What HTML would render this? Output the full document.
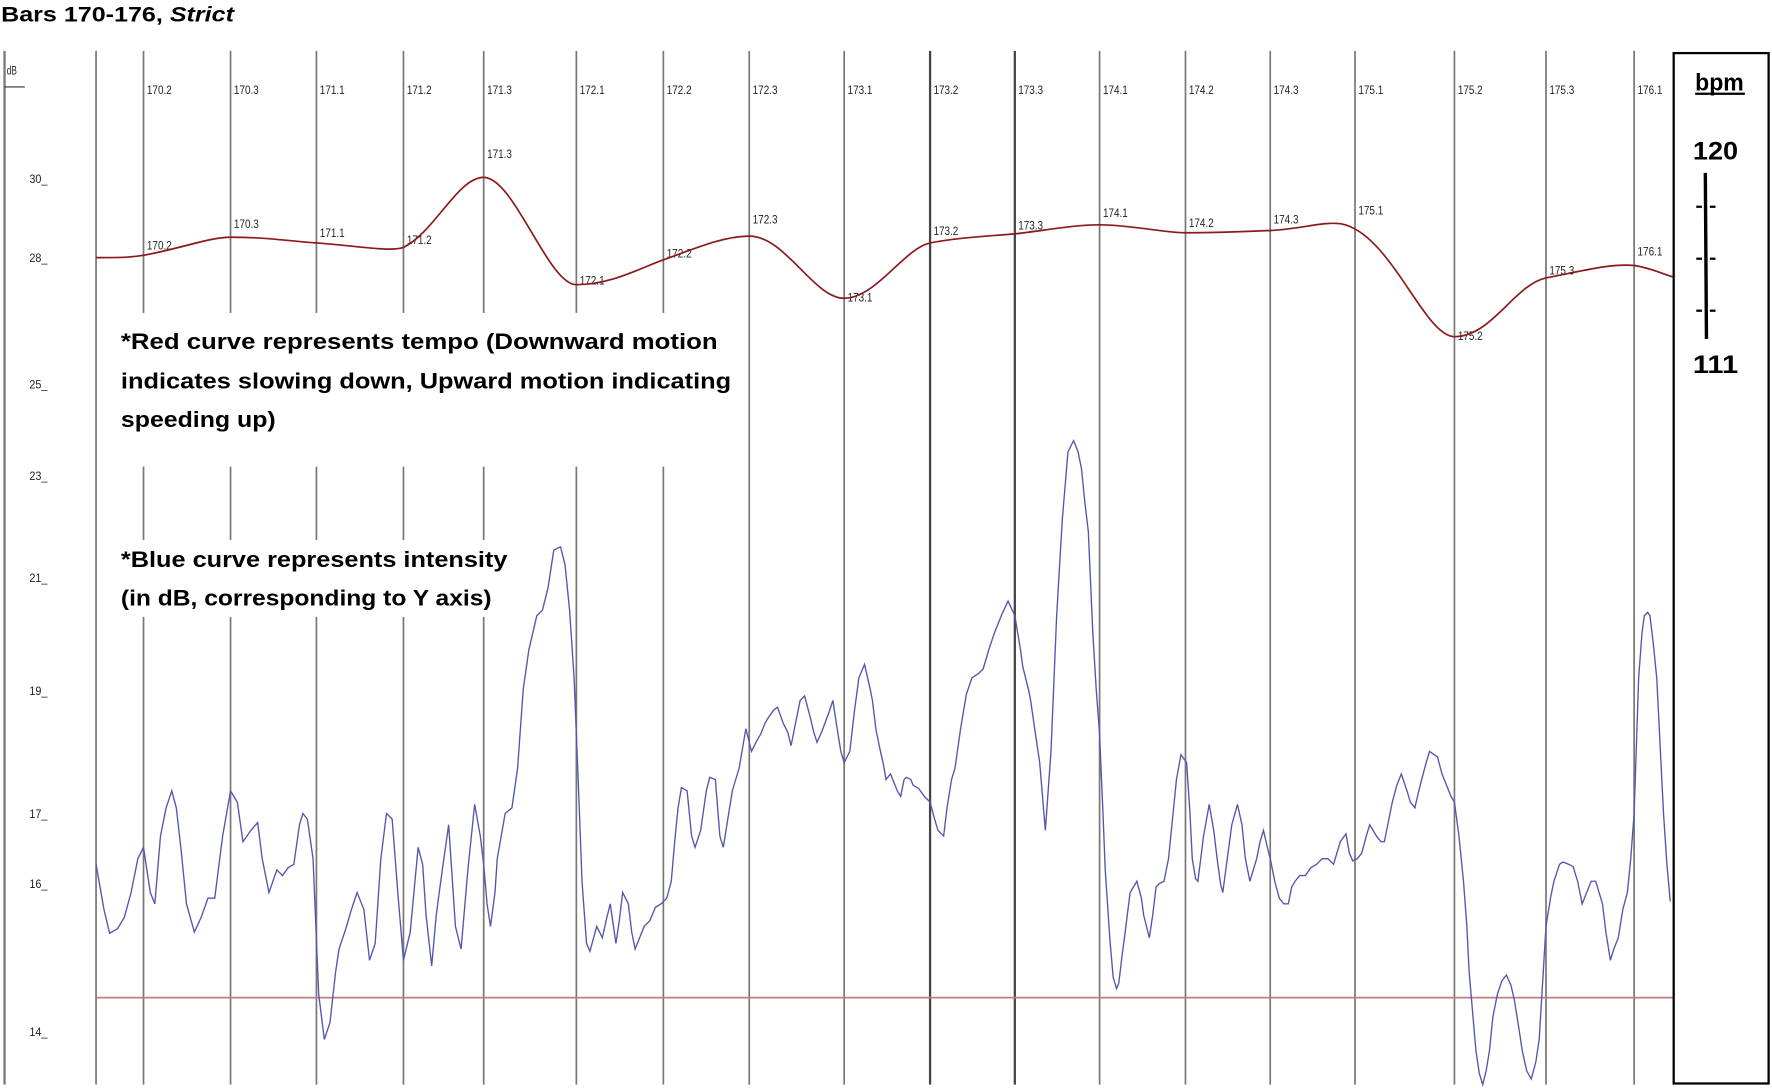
<!DOCTYPE html>
<html><head><meta charset="utf-8"><style>
html,body{margin:0;padding:0;background:#fff;}
svg{display:block;}
.t{font-family:"Liberation Sans",sans-serif;font-size:11px;fill:#222;}
.b{font-family:"Liberation Sans",sans-serif;font-weight:bold;fill:#000;}
</style></head><body>
<svg width="1772" height="1088" viewBox="0 0 1568 963" preserveAspectRatio="none" xmlns="http://www.w3.org/2000/svg">
<rect width="1568" height="963" fill="#fff"/>
<text class="b" x="1" y="19" font-size="19" textLength="206" lengthAdjust="spacingAndGlyphs">Bars 170-176, <tspan font-style="italic">Strict</tspan></text>
<line x1="4" y1="45" x2="4" y2="960" stroke="#777" stroke-width="2"/>
<text class="t" x="6" y="66" font-size="10" textLength="9" lengthAdjust="spacingAndGlyphs">dB</text>
<line x1="4" y1="77" x2="22" y2="77" stroke="#333" stroke-width="1"/>
<g stroke="#777" stroke-width="1.5">
<line x1="85" y1="45" x2="85" y2="960"/>
<line x1="127" y1="45" x2="127" y2="960"/>
<line x1="204" y1="45" x2="204" y2="960"/>
<line x1="280" y1="45" x2="280" y2="960"/>
<line x1="357" y1="45" x2="357" y2="960"/>
<line x1="428" y1="45" x2="428" y2="960"/>
<line x1="510" y1="45" x2="510" y2="960"/>
<line x1="587" y1="45" x2="587" y2="960"/>
<line x1="663" y1="45" x2="663" y2="960"/>
<line x1="747" y1="45" x2="747" y2="960"/>
<line x1="823" y1="45" x2="823" y2="960" stroke="#444" stroke-width="2"/>
<line x1="898" y1="45" x2="898" y2="960" stroke="#444" stroke-width="2"/>
<line x1="973" y1="45" x2="973" y2="960"/>
<line x1="1049" y1="45" x2="1049" y2="960"/>
<line x1="1124" y1="45" x2="1124" y2="960"/>
<line x1="1199" y1="45" x2="1199" y2="960"/>
<line x1="1287" y1="45" x2="1287" y2="960"/>
<line x1="1368" y1="45" x2="1368" y2="960"/>
<line x1="1446" y1="45" x2="1446" y2="960"/>
</g>
<rect x="95" y="277" width="562" height="136" fill="#fff"/>
<rect x="95" y="478" width="360" height="68" fill="#fff"/>
<g class="t" lengthAdjust="spacingAndGlyphs">
<text x="130" y="83" textLength="22" lengthAdjust="spacingAndGlyphs">170.2</text><text x="207" y="83" textLength="22" lengthAdjust="spacingAndGlyphs">170.3</text><text x="283" y="83" textLength="22" lengthAdjust="spacingAndGlyphs">171.1</text>
<text x="360" y="83" textLength="22" lengthAdjust="spacingAndGlyphs">171.2</text><text x="431" y="83" textLength="22" lengthAdjust="spacingAndGlyphs">171.3</text><text x="513" y="83" textLength="22" lengthAdjust="spacingAndGlyphs">172.1</text>
<text x="590" y="83" textLength="22" lengthAdjust="spacingAndGlyphs">172.2</text><text x="666" y="83" textLength="22" lengthAdjust="spacingAndGlyphs">172.3</text><text x="750" y="83" textLength="22" lengthAdjust="spacingAndGlyphs">173.1</text>
<text x="826" y="83" textLength="22" lengthAdjust="spacingAndGlyphs">173.2</text><text x="901" y="83" textLength="22" lengthAdjust="spacingAndGlyphs">173.3</text><text x="976" y="83" textLength="22" lengthAdjust="spacingAndGlyphs">174.1</text>
<text x="1052" y="83" textLength="22" lengthAdjust="spacingAndGlyphs">174.2</text><text x="1127" y="83" textLength="22" lengthAdjust="spacingAndGlyphs">174.3</text><text x="1202" y="83" textLength="22" lengthAdjust="spacingAndGlyphs">175.1</text>
<text x="1290" y="83" textLength="22" lengthAdjust="spacingAndGlyphs">175.2</text><text x="1371" y="83" textLength="22" lengthAdjust="spacingAndGlyphs">175.3</text><text x="1449" y="83" textLength="22" lengthAdjust="spacingAndGlyphs">176.1</text>
<text x="26" y="162" textLength="16" lengthAdjust="spacingAndGlyphs">30_</text><text x="26" y="232" textLength="16" lengthAdjust="spacingAndGlyphs">28_</text><text x="26" y="344" textLength="16" lengthAdjust="spacingAndGlyphs">25_</text>
<text x="26" y="425" textLength="16" lengthAdjust="spacingAndGlyphs">23_</text><text x="26" y="515" textLength="16" lengthAdjust="spacingAndGlyphs">21_</text><text x="26" y="615" textLength="16" lengthAdjust="spacingAndGlyphs">19_</text>
<text x="26" y="724" textLength="16" lengthAdjust="spacingAndGlyphs">17_</text><text x="26" y="786" textLength="16" lengthAdjust="spacingAndGlyphs">16_</text><text x="26" y="917" textLength="16" lengthAdjust="spacingAndGlyphs">14_</text>
<text x="130" y="221" textLength="22" lengthAdjust="spacingAndGlyphs">170.2</text><text x="207" y="202" textLength="22" lengthAdjust="spacingAndGlyphs">170.3</text><text x="283" y="210" textLength="22" lengthAdjust="spacingAndGlyphs">171.1</text>
<text x="360" y="216" textLength="22" lengthAdjust="spacingAndGlyphs">171.2</text><text x="431" y="140" textLength="22" lengthAdjust="spacingAndGlyphs">171.3</text><text x="513" y="252" textLength="22" lengthAdjust="spacingAndGlyphs">172.1</text>
<text x="590" y="228" textLength="22" lengthAdjust="spacingAndGlyphs">172.2</text><text x="666" y="198" textLength="22" lengthAdjust="spacingAndGlyphs">172.3</text><text x="750" y="267" textLength="22" lengthAdjust="spacingAndGlyphs">173.1</text>
<text x="826" y="208" textLength="22" lengthAdjust="spacingAndGlyphs">173.2</text><text x="901" y="203" textLength="22" lengthAdjust="spacingAndGlyphs">173.3</text><text x="976" y="192" textLength="22" lengthAdjust="spacingAndGlyphs">174.1</text>
<text x="1052" y="201" textLength="22" lengthAdjust="spacingAndGlyphs">174.2</text><text x="1127" y="198" textLength="22" lengthAdjust="spacingAndGlyphs">174.3</text><text x="1202" y="190" textLength="22" lengthAdjust="spacingAndGlyphs">175.1</text>
<text x="1290" y="301" textLength="22" lengthAdjust="spacingAndGlyphs">175.2</text><text x="1371" y="243" textLength="22" lengthAdjust="spacingAndGlyphs">175.3</text><text x="1449" y="226" textLength="22" lengthAdjust="spacingAndGlyphs">176.1</text>
</g>
<line x1="85" y1="883" x2="1480" y2="883" stroke="#b88080" stroke-width="1.5"/>
<path d="M85,228 C105,228 115,228 127,226 C160,220 185,210 204,210 C240,210 260,214 280,215 C320,218 345,223 357,219 C385,205 405,157 428,157 C455,157 485,252 510,252 C540,252 565,238 587,230 C615,220 640,209 663,209 C695,209 720,264 747,264 C775,264 800,220 823,215 C850,210 875,209 898,207 C925,204 950,199 973,199 C1000,199 1030,206 1049,206 C1075,206 1100,205 1124,204 C1150,203 1170,196 1186,198 C1230,205 1260,298 1287,298 C1320,298 1340,252 1368,246 C1400,240 1425,233 1446,235 C1460,237 1470,242 1480,245" fill="none" stroke="#8b1a1a" stroke-width="1.5"/>
<polyline fill="none" stroke="#5555b0" stroke-width="1.2" points="85,765 92,805 97,826 104,822 110,812 116,790 122,760 127,750 133,790 137,800 142,740 147,715 152,700 156,715 160,750 165,800 172,825 178,812 184,795 190,795 197,740 204,700 210,710 215,745 222,735 228,728 232,760 238,790 245,770 250,775 255,768 260,765 265,730 268,720 272,725 277,760 282,880 287,920 292,905 297,860 300,840 306,822 311,805 316,790 322,805 327,850 332,835 337,760 342,720 347,725 352,790 357,850 363,825 370,750 374,765 377,810 382,855 386,810 390,780 397,730 403,820 408,840 414,770 420,712 425,740 428,765 431,800 434,820 438,790 440,760 447,720 453,715 458,680 463,610 468,575 475,545 480,540 485,520 490,487 496,484 500,500 504,540 508,600 512,700 515,780 519,835 522,842 528,820 533,830 537,812 540,800 545,835 548,815 551,790 556,800 559,825 562,840 566,830 570,820 575,815 580,803 585,800 590,795 594,780 597,745 600,715 603,697 608,700 612,740 615,750 620,735 625,700 628,688 633,690 637,740 640,750 644,725 648,700 654,680 660,645 665,665 670,655 673,650 677,640 680,635 685,628 688,626 693,640 697,648 700,660 705,635 708,620 712,616 717,635 720,648 723,657 727,648 733,632 737,620 740,640 744,665 747,675 752,665 756,630 760,600 765,588 770,610 772,620 775,645 778,660 782,678 784,690 788,685 790,690 794,700 797,705 800,690 802,688 806,690 808,695 813,698 818,705 823,710 827,725 830,735 833,738 835,740 838,715 842,690 845,680 850,645 855,615 860,600 866,596 870,592 875,575 880,560 886,545 892,532 898,545 903,575 905,590 910,610 912,620 916,648 920,675 925,735 930,665 935,545 940,460 945,400 950,390 954,400 957,415 960,445 963,470 967,560 970,610 973,650 976,720 978,770 982,830 985,865 988,875 990,870 993,845 995,830 1000,790 1006,780 1010,795 1012,810 1017,830 1020,810 1023,785 1026,782 1030,780 1034,760 1037,730 1041,690 1045,668 1050,675 1053,720 1055,760 1058,778 1060,780 1065,740 1070,712 1074,735 1077,760 1080,782 1082,790 1086,760 1090,730 1095,712 1099,730 1102,760 1106,780 1109,770 1112,760 1115,745 1118,735 1121,748 1124,760 1128,780 1132,795 1136,800 1140,800 1143,785 1146,780 1150,775 1155,775 1160,768 1165,765 1170,760 1175,760 1180,765 1183,755 1186,745 1191,738 1194,755 1197,762 1201,760 1205,755 1209,740 1212,730 1215,735 1218,740 1222,745 1225,745 1229,725 1232,710 1236,695 1240,685 1245,700 1248,710 1252,715 1255,702 1258,690 1262,675 1265,665 1269,668 1272,670 1276,685 1280,695 1284,705 1287,710 1291,740 1295,780 1298,820 1300,860 1303,895 1306,930 1309,950 1312,960 1315,948 1318,930 1321,900 1325,880 1329,868 1333,863 1337,872 1340,885 1344,910 1347,930 1351,948 1355,955 1359,940 1362,920 1365,870 1368,820 1372,795 1375,780 1380,765 1383,763 1388,765 1392,767 1396,780 1400,800 1404,790 1408,780 1412,780 1415,790 1418,800 1421,825 1425,850 1428,840 1432,830 1436,805 1440,790 1443,760 1446,720 1448,660 1450,600 1453,560 1455,545 1458,542 1460,545 1463,570 1466,600 1469,660 1472,720 1475,765 1478,798"/>
<g class="b" font-size="20">
<text x="107" y="309" textLength="528" lengthAdjust="spacingAndGlyphs">*Red curve represents tempo (Downward motion</text>
<text x="107" y="344" textLength="540" lengthAdjust="spacingAndGlyphs">indicates slowing down, Upward motion indicating</text>
<text x="107" y="378" textLength="137" lengthAdjust="spacingAndGlyphs">speeding up)</text>
<text x="107" y="502" textLength="342" lengthAdjust="spacingAndGlyphs">*Blue curve represents intensity</text>
<text x="107" y="536" textLength="328" lengthAdjust="spacingAndGlyphs">(in dB, corresponding to Y axis)</text>
</g>
<rect x="1481" y="47" width="84" height="912" fill="#fff" stroke="#000" stroke-width="2"/>
<text class="b" x="1500" y="80" font-size="21" textLength="43" lengthAdjust="spacingAndGlyphs">bpm</text>
<line x1="1500" y1="83" x2="1544" y2="83" stroke="#000" stroke-width="2"/>
<text class="b" x="1498" y="141" font-size="22" textLength="40" lengthAdjust="spacingAndGlyphs">120</text>
<line x1="1509" y1="153" x2="1510" y2="300" stroke="#000" stroke-width="3"/>
<g stroke="#000" stroke-width="2">
<line x1="1501" y1="183" x2="1506" y2="183"/><line x1="1513" y1="183" x2="1518" y2="183"/>
<line x1="1501" y1="229" x2="1506" y2="229"/><line x1="1513" y1="229" x2="1518" y2="229"/>
<line x1="1501" y1="275" x2="1506" y2="275"/><line x1="1513" y1="275" x2="1518" y2="275"/>
</g>
<text class="b" x="1498" y="330" font-size="22" textLength="40" lengthAdjust="spacingAndGlyphs">111</text>
</svg>
</body></html>
